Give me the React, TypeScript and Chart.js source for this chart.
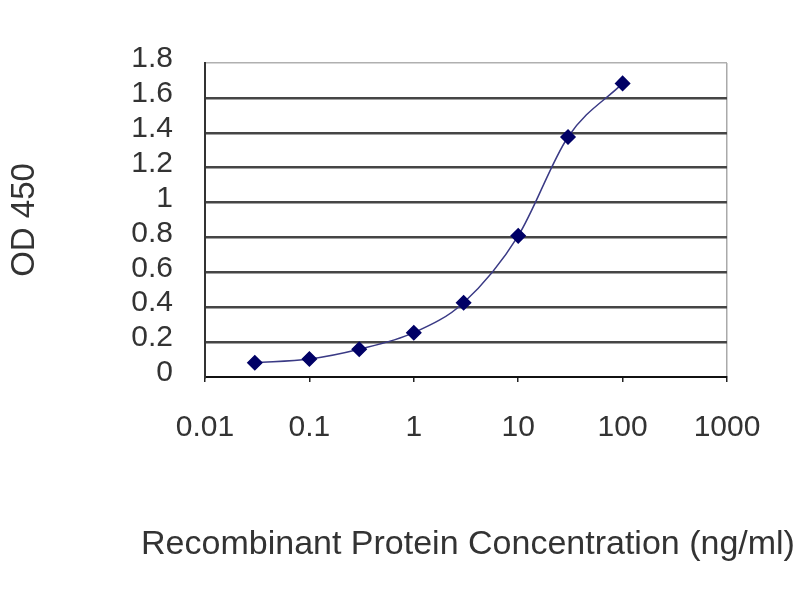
import React, { useEffect, useRef } from "react";
import { Chart, registerables } from "chart.js";

Chart.register(...registerables);

const CONCENTRATIONS = [0.03, 0.1, 0.3, 1, 3, 10, 30, 100];
const OD_VALUES = [0.082, 0.103, 0.159, 0.254, 0.426, 0.809, 1.376, 1.683];
const X_TICKS = [0.01, 0.1, 1, 10, 100, 1000];
const X_TITLE = "Recombinant Protein Concentration (ng/ml)";
const Y_TITLE = "OD 450";

const FONT = "'Liberation Sans', Arial, sans-serif";

const xTitlePlugin = {
  id: "xTitleFree",
  afterDraw(chart: any) {
    const { ctx, chartArea } = chart;
    ctx.save();
    ctx.font = `34px ${FONT}`;
    ctx.fillStyle = "#333";
    ctx.textAlign = "center";
    ctx.textBaseline = "middle";
    ctx.fillText(X_TITLE, (chartArea.left + chartArea.right) / 2 + 2, chartArea.bottom + 168);
    ctx.restore();
  },
};

export default function App() {
  const canvasRef = useRef<HTMLCanvasElement | null>(null);

  useEffect(() => {
    const canvas = canvasRef.current;
    if (!canvas) return;
    const chart = new Chart(canvas, {
      type: "line",
      data: {
        datasets: [
          {
            data: CONCENTRATIONS.map((x, i) => ({ x, y: OD_VALUES[i] })),
            borderColor: "#3a3a85",
            borderWidth: 1.5,
            backgroundColor: "#000066",
            pointStyle: "rectRot",
            pointRadius: 7,
            pointBackgroundColor: "#000066",
            pointBorderColor: "#000066",
            cubicInterpolationMode: "monotone",
            fill: false,
          },
        ],
      },
      plugins: [xTitlePlugin],
      options: {
        animation: false,
        responsive: false,
        maintainAspectRatio: false,
        layout: { padding: { left: 0, right: 73, top: 63, bottom: 0 } },
        plugins: { legend: { display: false }, tooltip: { enabled: false } },
        scales: {
          x: {
            type: "logarithmic",
            min: 0.01,
            max: 1000,
            afterBuildTicks: (scale: any) => {
              scale.ticks = X_TICKS.map((v) => ({ value: v }));
            },
            afterFit: (scale: any) => {
              scale.height = 223;
            },
            ticks: {
              autoSkip: false,
              maxRotation: 0,
              padding: 28,
              color: "#333",
              font: { family: FONT, size: 30 },
              callback: (v: any) => String(v),
            },
            grid: {
              drawTicks: true,
              tickLength: 5,
              tickColor: "#222",
              color: (ctx: any) => (ctx.tick && ctx.tick.value === 1000 ? "#aaa" : "rgba(0,0,0,0)"),
              lineWidth: 1.5,
            },
            border: { display: true, color: "#111", width: 2 },
            title: { display: false },
          },
          y: {
            type: "linear",
            min: 0,
            max: 1.8,
            afterFit: (scale: any) => {
              scale.width = 205;
            },
            ticks: {
              stepSize: 0.2,
              autoSkip: false,
              padding: 32,
              labelOffset: -4,
              color: "#333",
              font: { family: FONT, size: 30 },
              callback: (v: any) => String(Math.round(Number(v) * 10) / 10),
            },
            grid: {
              drawTicks: false,
              color: (ctx: any) => {
                const v = ctx.tick ? Math.round(ctx.tick.value * 10) / 10 : -1;
                if (v === 1.8) return "#b0b0b0";
                if (v === 0) return "rgba(0,0,0,0)";
                return "#454545";
              },
              lineWidth: (ctx: any) => {
                const v = ctx.tick ? Math.round(ctx.tick.value * 10) / 10 : -1;
                return v === 1.8 ? 1.5 : 2.5;
              },
            },
            border: { display: true, color: "#333", width: 2 },
            title: {
              display: true,
              text: Y_TITLE,
              color: "#333",
              font: { family: FONT, size: 33 },
              padding: { top: 5, bottom: 0 },
            },
          },
        },
      },
    });
    return () => chart.destroy();
  }, []);

  return (
    <div style={{ position: "fixed", left: 0, top: 0, width: 800, height: 600, background: "#fff" }}>
      <canvas ref={canvasRef} width={800} height={600} style={{ width: 800, height: 600 }} />
    </div>
  );
}
